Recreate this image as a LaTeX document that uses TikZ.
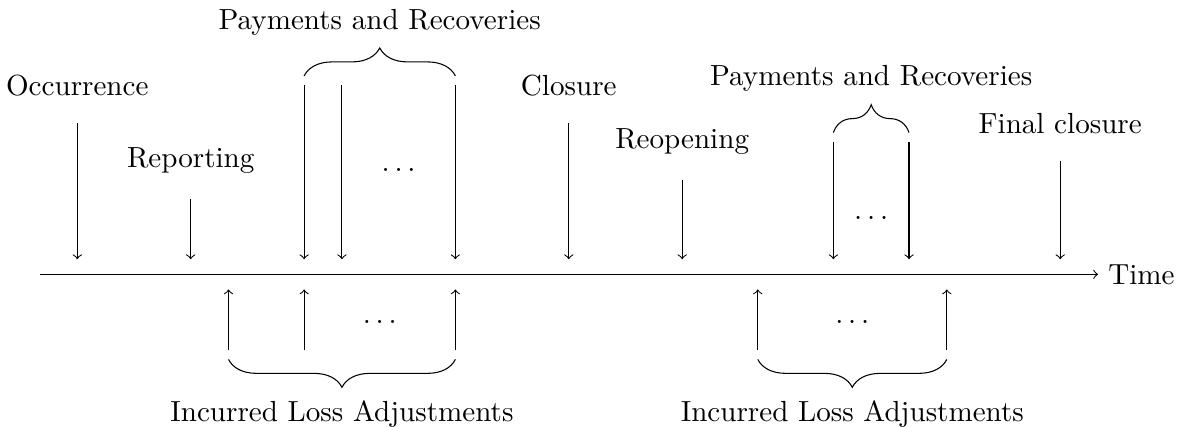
\documentclass[tikz,border=0pt,11pt]{standalone}
\usepackage{tikz}
\usetikzlibrary{decorations.pathreplacing}
\tikzset{
  tlaxis/.style={->, line width=0.4pt, draw=black},
  tlevent/.style={->, line width=0.4pt, draw=black},
  tlbrace/.style={decorate, decoration={brace, amplitude=10.5pt}, line width=0.4pt},
  tllabel/.style={inner sep=0.333em},
}

\begin{document}
\begin{tikzpicture}[x=0.5cm, y=0.5cm]
\useasboundingbox (-0.045,-4.013) rectangle (31.38,7.257);
% time axis
\coordinate (axisstart) at (1,0);
\coordinate (axisend) at (29,0);
\draw[tlaxis] (axisstart) -- (axisend);
\node[tllabel, anchor=west] (timelbl) at (axisend) {Time};
% events above the axis
\foreach \name/\x/\y in {occ/2/4, rep/5/2, pra/8/5, prb/9/5, prc/12/5, clo/15/4, reo/18/2.5, prd/22/3.5, pre/24/3.5, fin/28/3} {
  \coordinate (\name-t) at (\x,\y);
  \coordinate (\name-b) at (\x,0.4);
  \draw[tlevent] (\name-t) -- (\name-b);
}
\node[tllabel] (occlbl) at (2,5) {Occurrence};
\node[tllabel] (replbl) at (5,3) {Reporting};
\node[tllabel] (clolbl) at (15,5) {Closure};
\node[tllabel] (reolbl) at (18,3.5) {Reopening};
\node[tllabel] (finlbl) at (28,4) {Final closure};
\node (pradots) at (10.5,2.75) {$\ldots$};
\node (prbdots) at (23,1.5) {$\ldots$};
\draw[tlbrace] (8,5.25) -- (12,5.25) node[tllabel, midway, above=11.5pt] (pralbl) {Payments and Recoveries};
\draw[tlbrace] (22,3.75) -- (24,3.75) node[tllabel, midway, above=11.5pt] (prblbl) {Payments and Recoveries};
% incurred loss adjustments below the axis
\foreach \name/\x in {ila/6, ilb/8, ilc/12, ild/20, ile/25} {
  \coordinate (\name-b) at (\x,-2);
  \coordinate (\name-t) at (\x,-0.4);
  \draw[tlevent] (\name-b) -- (\name-t);
}
\node (iladots) at (10,-1.25) {$\ldots$};
\node (ilbdots) at (22.5,-1.25) {$\ldots$};
\draw[tlbrace] (12,-2.25) -- (6,-2.25) node[tllabel, midway, below=11.5pt] (ilalbl) {Incurred Loss Adjustments};
\draw[tlbrace] (25,-2.25) -- (20,-2.25) node[tllabel, midway, below=11.5pt] (ilblbl) {Incurred Loss Adjustments};
\end{tikzpicture}
\end{document}
